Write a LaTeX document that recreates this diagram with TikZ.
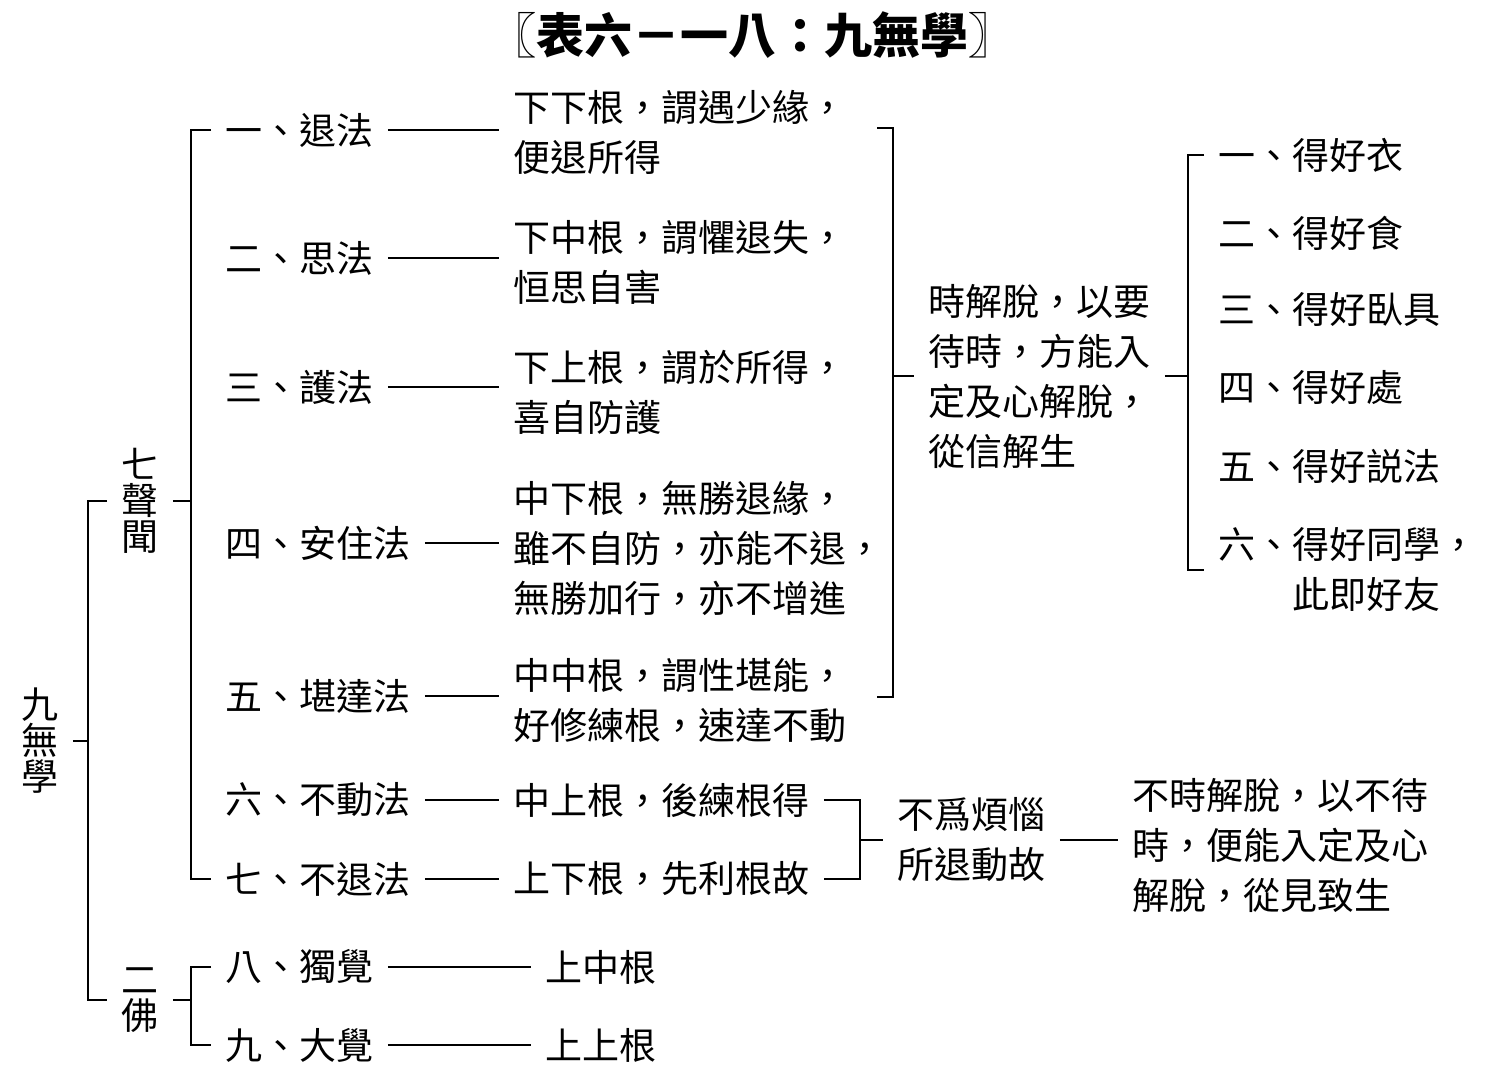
\documentclass[tikz,border=0pt]{standalone}
\usepackage{fontspec}
\newfontfamily\cjk{Noto Sans CJK TC}
\usetikzlibrary{positioning}
\tikzstyle{leaf}=[anchor=west, inner xsep=7pt, inner ysep=2pt, align=left]
\tikzstyle{stack}=[inner xsep=7pt, inner ysep=2pt, align=center, font=\cjk\fontsize{18.5}{18}\selectfont]
\tikzstyle{wire}=[line width=1pt]
\newcommand{\leaf}{\node[leaf]}
\begin{document}
\begin{tikzpicture}[x=0.5pt, y=-0.5pt, font=\cjk\fontsize{18.5}{25}\selectfont]
            \fill[white] (0,0) rectangle (1510,1092);
            \useasboundingbox (0,0) rectangle (1510,1092);
            \node[font=\cjk\bfseries\fontsize{24}{24}\selectfont] (title) at (752,35) {〖表六－一八：九無學〗};
            % left stacks
            \node[stack] (nine) at (40,741) {九\\無\\學};
            \node[stack] (s7) at (140,501) {七\\聲\\聞};
            \node[stack] (b2) at (140,1000) {二\\佛};
            % items
            \leaf (t1) at (211,130) {一、退法};
            \leaf (t2) at (211,258) {二、思法};
            \leaf (t3) at (211,387) {三、護法};
            \leaf (t4) at (211,543) {四、安住法};
            \leaf (t5) at (211,696) {五、堪達法};
            \leaf (t6) at (211,800) {六、不動法};
            \leaf (t7) at (211,879) {七、不退法};
            \leaf (t8) at (211,967) {八、獨覺};
            \leaf (t9) at (211,1045) {九、大覺};
            % roots
            \leaf (d1) at (499,132) {下下根，謂遇少緣，\\便退所得};
            \leaf (d2) at (499,262) {下中根，謂懼退失，\\恒思自害};
            \leaf (d3) at (499,392) {下上根，謂於所得，\\喜自防護};
            \leaf (d4) at (499,548) {中下根，無勝退緣，\\雖不自防，亦能不退，\\無勝加行，亦不增進};
            \leaf (d5) at (499,701) {中中根，謂性堪能，\\好修練根，速達不動};
            \leaf (d6) at (499,800) {中上根，後練根得};
            \leaf (d7) at (499,879) {上下根，先利根故};
            \leaf (d8) at (531,967) {上中根};
            \leaf (d9) at (531,1045) {上上根};
            % release
            \leaf (m1) at (914,376) {時解脫，以要\\待時，方能入\\定及心解脫，\\從信解生};
            \leaf (g1) at (1204,155) {一、得好衣};
            \leaf (g2) at (1204,233) {二、得好食};
            \leaf (g3) at (1204,310) {三、得好臥具};
            \leaf (g4) at (1204,388) {四、得好處};
            \leaf (g5) at (1204,466) {五、得好説法};
            \leaf (g6) at (1204,570) {六、得好同學，\\\phantom{六、}此即好友};
            \leaf (n1) at (883,840) {不爲煩惱\\所退動故};
            \leaf (n2) at (1118,845) {不時解脫，以不待\\時，便能入定及心\\解脫，從見致生};
            % bracket points
            \coordinate (a9) at (88,741);
            \coordinate (a7) at (191,501);
            \coordinate (a2) at (191,1000);
            \coordinate (ra) at (877,128);
            \coordinate (rb) at (877,697);
            \coordinate (rm) at (893,376);
            \coordinate (gm) at (1188,376);
            \coordinate (c67) at (860,840);
            \begin{scope}[wire]
            \draw (nine.east) -- (a9);
            \draw (s7.west) -| (a9) |- (b2.west);
            \draw (s7.east) -- (a7);
            \draw (t1.west) -| (a7) |- (t7.west);
            \draw (b2.east) -- (a2);
            \draw (t8.west) -| (a2) |- (t9.west);
            \foreach \i in {1,...,9}
                \draw (t\i.east) -- (t\i.east -| d\i.west);
            \draw (ra) -| (rm) |- (rb);
            \draw (rm) -- (rm -| m1.west);
            \draw (m1.east |- gm) -- (gm);
            \draw (g1.west) -| (gm) |- (g6.west);
            \draw (d6.east) -| (c67) |- (d7.east);
            \draw (c67) -- (n1.west);
            \draw (n1.east) -- (n1.east -| n2.west);
            \end{scope}
        \end{tikzpicture}
\end{document}
